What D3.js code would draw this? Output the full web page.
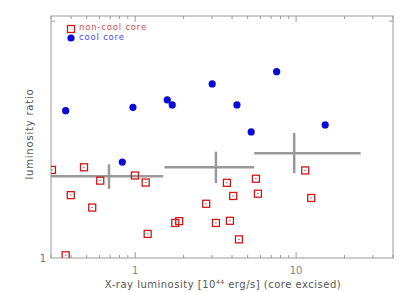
<!DOCTYPE html>
<html lang="en">
<head>
<meta charset="UTF-8">
<title>luminosity ratio</title>
<script src="https://d3js.org/d3.v7.min.js"></script>
<style>
body { margin: 0; background: #fff; }
text { font-family: 'DejaVu Sans', sans-serif; }
</style>
</head>
<body>
<svg id="chart" width="409" height="292"></svg>
<script>
// cool core clusters: [Lx, ratio]
const coolX = [0.37, 0.969, 1.583, 1.70, 3.01, 7.57, 4.29, 5.26, 15.16, 0.832];
const coolY = [1.539, 1.554, 1.588, 1.565, 1.664, 1.725, 1.565, 1.446, 1.476, 1.324];

// non-cool core clusters
const ncX = [0.304, 0.481, 0.607, 0.997, 1.162, 0.398, 0.541, 1.775, 1.879, 1.196, 0.370,
  2.764, 3.717, 4.068, 5.628, 5.791, 11.39, 12.41, 3.176, 3.880, 4.413];
const ncY = [1.294, 1.304, 1.254, 1.273, 1.247, 1.202, 1.159, 1.108, 1.114, 1.073, 1.008,
  1.172, 1.246, 1.199, 1.261, 1.207, 1.292, 1.192, 1.108, 1.115, 1.056];

// binned means with ranges
const binX = [0.688, 3.176, 9.73];
const binXlo = [0.25, 1.521, 5.494];
const binXhi = [1.494, 5.494, 25.15];
const binY = [1.270, 1.304, 1.359];
const binYlo = [1.224, 1.245, 1.282];
const binYhi = [1.316, 1.365, 1.441];

const xMajor = [1, 10];
const xMinor = [0.3, 0.4, 0.5, 0.6, 0.7, 0.8, 0.9, 2, 3, 4, 5, 6, 7, 8, 9, 20, 30, 40];
const yTicks = [1, 2];

const svg = d3.select('#chart');
const m = {left: 51, right: 393, top: 16, bottom: 258};

const x = d3.scaleLog().domain([0.3, 40]).range([m.left, m.right]);
const y = d3.scaleLog().domain([1, 2.03]).range([m.bottom, m.top]);

const axisCol = '#999';

svg.append('clipPath').attr('id', 'clip')
  .append('rect').attr('x', m.left).attr('y', m.top)
  .attr('width', m.right - m.left).attr('height', m.bottom - m.top);

// frame
svg.append('rect')
  .attr('x', m.left).attr('y', m.top)
  .attr('width', m.right - m.left).attr('height', m.bottom - m.top)
  .attr('fill', 'none').attr('stroke', axisCol).attr('stroke-width', 1);

// x ticks (bottom and top, inward)
const ticks = svg.append('g').attr('stroke', axisCol).attr('stroke-width', 1);
[[xMajor, 6], [xMinor, 3]].forEach(([vals, len]) => {
  vals.forEach(v => {
    ticks.append('line').attr('x1', x(v)).attr('x2', x(v))
      .attr('y1', m.bottom).attr('y2', m.bottom - len);
    ticks.append('line').attr('x1', x(v)).attr('x2', x(v))
      .attr('y1', m.top).attr('y2', m.top + len);
  });
});
yTicks.slice(1).forEach(v => {
  ticks.append('line').attr('x1', m.left).attr('x2', m.left + 4)
    .attr('y1', y(v)).attr('y2', y(v));
  ticks.append('line').attr('x1', m.right).attr('x2', m.right - 4)
    .attr('y1', y(v)).attr('y2', y(v));
});

// tick labels
svg.selectAll('.xl').data(xMajor).enter().append('text')
  .attr('x', d => x(d)).attr('y', 274)
  .attr('text-anchor', 'middle').attr('font-size', 10).attr('fill', '#888')
  .text(d => d);
svg.append('text').attr('x', 46).attr('y', y(1) + 4)
  .attr('text-anchor', 'end').attr('font-size', 10).attr('fill', '#777')
  .text('1');

// axis labels
const xl = svg.append('text').attr('x', 223).attr('y', 288)
  .attr('text-anchor', 'middle').attr('font-size', 10).attr('fill', '#555')
  .attr('letter-spacing', 0.5);
xl.append('tspan').text('X-ray luminosity [10');
xl.append('tspan').attr('font-size', 6).attr('dy', -4).text('44');
xl.append('tspan').attr('dy', 4).text(' erg/s] (core excised)');

svg.append('text')
  .attr('transform', 'translate(33,134) rotate(-90)')
  .attr('text-anchor', 'middle').attr('font-size', 10).attr('fill', '#555')
  .attr('letter-spacing', 0.8)
  .text('luminosity ratio');

const plot = svg.append('g').attr('clip-path', 'url(#clip)');

// bins
const binCol = '#999';
binX.forEach((v, i) => {
  plot.append('line').attr('x1', x(binXlo[i])).attr('x2', x(binXhi[i]))
    .attr('y1', y(binY[i])).attr('y2', y(binY[i]))
    .attr('stroke', binCol).attr('stroke-width', 2.5);
  plot.append('line').attr('x1', x(v)).attr('x2', x(v))
    .attr('y1', y(binYlo[i])).attr('y2', y(binYhi[i]))
    .attr('stroke', binCol).attr('stroke-width', 2.5);
});

// non-cool core squares
const nc = ncX.map((v, i) => [v, ncY[i]]);
const sq = plot.selectAll('.nc').data(nc).enter().append('g')
  .attr('transform', d => `translate(${x(d[0])},${y(d[1])})`);
sq.append('rect').attr('x', -3.5).attr('y', -3.5).attr('width', 7).attr('height', 7)
  .attr('fill', 'none').attr('stroke', '#d01818').attr('stroke-width', 1.3);
sq.append('line').attr('x1', -1).attr('x2', 1).attr('y1', 0).attr('y2', 0)
  .attr('stroke', '#888').attr('stroke-width', 1);

// cool core circles
const cc = coolX.map((v, i) => [v, coolY[i]]);
plot.selectAll('.cc').data(cc).enter().append('circle')
  .attr('cx', d => x(d[0])).attr('cy', d => y(d[1])).attr('r', 3.6)
  .attr('fill', '#0808d8');

// legend
svg.append('rect').attr('x', 67.5).attr('y', 25.5).attr('width', 7).attr('height', 7)
  .attr('fill', 'none').attr('stroke', '#d01818').attr('stroke-width', 1.3);
svg.append('circle').attr('cx', 71).attr('cy', 38).attr('r', 3.6).attr('fill', '#0808d8');
svg.append('text').attr('x', 79).attr('y', 30).attr('font-size', 8.5)
  .attr('letter-spacing', 0.8).attr('fill', '#d84848').text('non-cool core');
svg.append('text').attr('x', 79).attr('y', 40).attr('font-size', 8.5)
  .attr('letter-spacing', 0.8).attr('fill', '#4848f0').text('cool core');
</script>
</body>
</html>
